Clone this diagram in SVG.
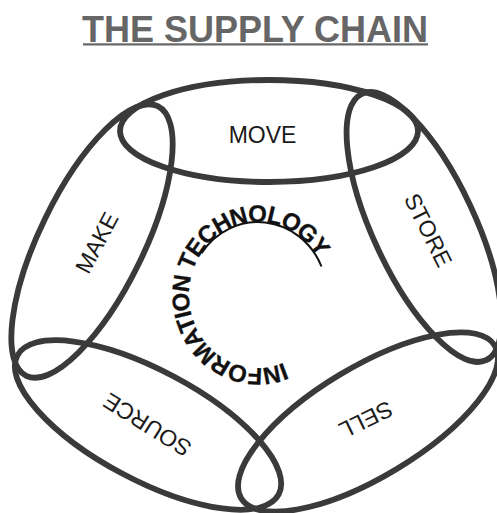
<svg xmlns="http://www.w3.org/2000/svg" width="497" height="513" viewBox="0 0 497 513">
  <style>
    .ring { fill: none; stroke: #3a3a3a; stroke-width: 5.8; }
    .label { font-family: "Liberation Sans", Arial, sans-serif; font-size: 23px; fill: #1a1a1a; text-anchor: middle; }
    .title { font-family: "Liberation Sans", Arial, sans-serif; font-size: 36px; font-weight: bold; fill: #666666; text-anchor: middle; }
    .it { font-family: "Liberation Sans", Arial, sans-serif; font-size: 24px; font-weight: bold; fill: #111111; stroke: #111111; stroke-width: 0.3; }
  </style>
  <defs>
    <!-- baseline curve for the core caption, clockwise from lower right -->
    <path id="itArc" d="M 283.8 362.7 A 69 73 0 1 1 321.5 266.5"/>
  </defs>
  <rect width="497" height="513" fill="#ffffff"/>

  <!-- heading -->
  <g id="title">
    <text class="title" x="255" y="41.5">THE SUPPLY CHAIN</text>
    <rect x="83" y="43.3" width="345" height="2.2" fill="#666666"/>
  </g>

  <!-- five stages of the chain -->
  <g id="move">
    <ellipse class="ring" cx="269" cy="131" rx="149" ry="51"/>
    <text class="label" transform="translate(262.5,135)" y="8.3">MOVE</text>
  </g>
  <g id="store">
    <ellipse class="ring" cx="424" cy="227" rx="147" ry="51" transform="rotate(65 424 227)"/>
    <text class="label" transform="translate(428.5,230) rotate(63.5)" y="8.3">STORE</text>
  </g>
  <g id="sell">
    <ellipse class="ring" cx="368" cy="422" rx="148" ry="55" transform="rotate(-31 368 422)"/>
    <text class="label" transform="translate(366,420) rotate(154)" y="8.3">SELL</text>
  </g>
  <g id="source">
    <ellipse class="ring" cx="148" cy="425" rx="148" ry="55" transform="rotate(28 148 425)"/>
    <text class="label" transform="translate(147,425) rotate(212)" y="8.3">SOURCE</text>
  </g>
  <g id="make">
    <ellipse class="ring" cx="92" cy="241" rx="150" ry="52" transform="rotate(-64 92 241)"/>
    <text class="label" transform="translate(96.5,242.5) rotate(-62)" y="8.3">MAKE</text>
  </g>

  <!-- information technology at the core -->
  <g id="information-technology">
    <path d="M 201.5 253.1 A 69 73 0 0 1 321.5 266.5" fill="none" stroke="#111111" stroke-width="2"/>
    <text class="it"><textPath href="#itArc" textLength="322" lengthAdjust="spacing">INFORMATION TECHNOLOGY</textPath></text>
  </g>

  <g id="connectors"></g>
</svg>
